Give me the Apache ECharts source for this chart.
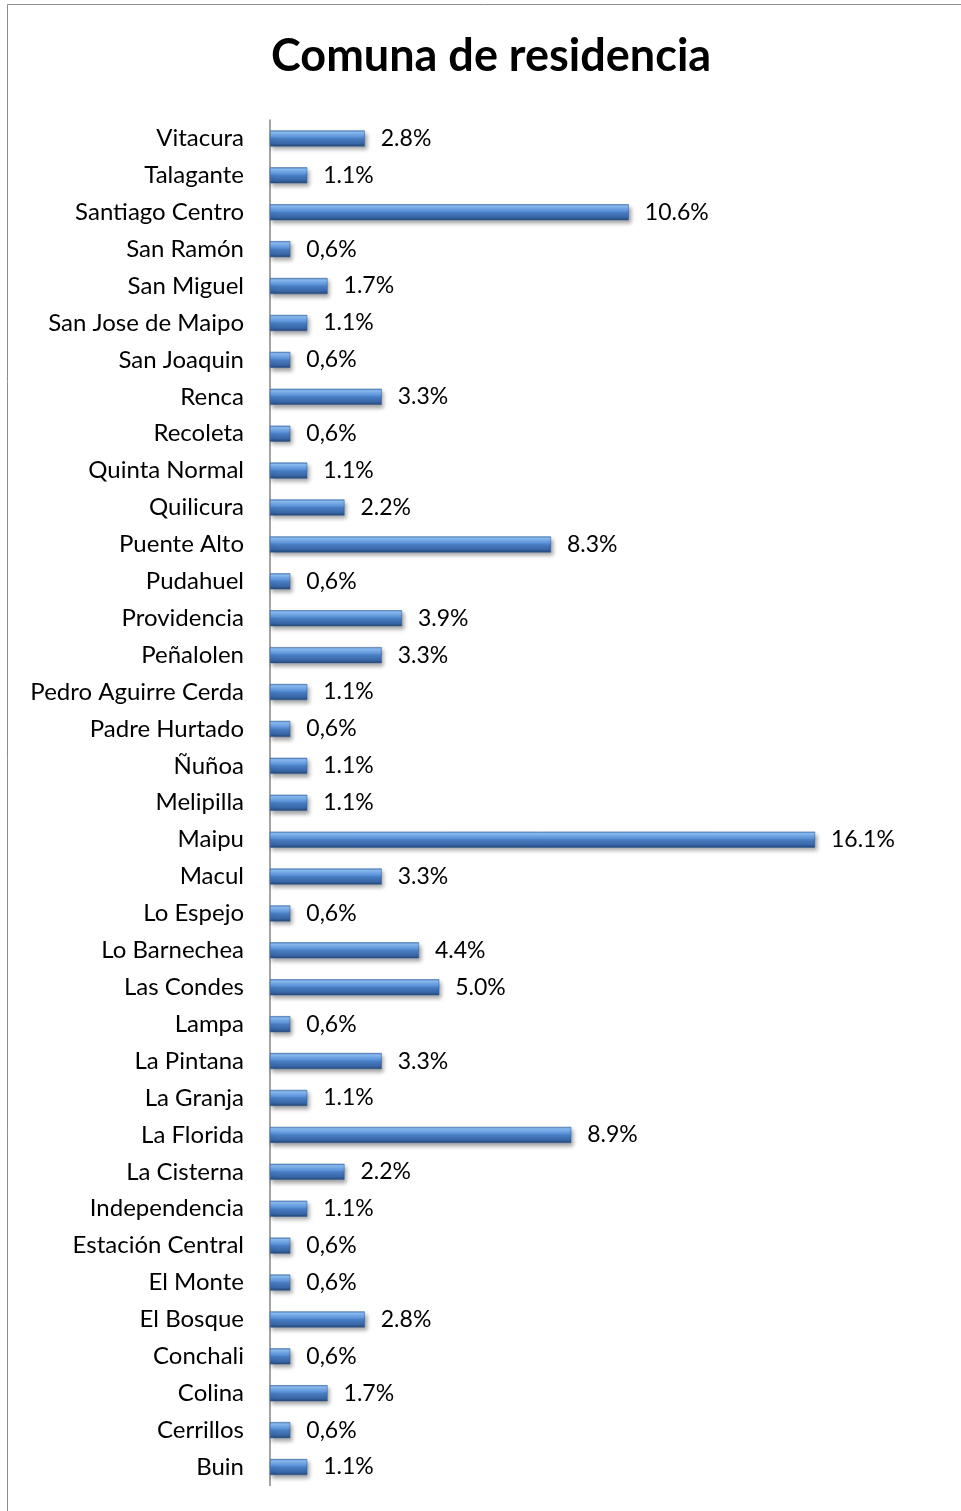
<!DOCTYPE html>
<html><head><meta charset="utf-8">
<script src="https://cdn.jsdelivr.net/npm/echarts@6/dist/echarts.min.js"></script>
<style>html,body{margin:0;padding:0;background:#fff}#c{width:961px;height:1511px}</style>
</head><body><div id="c"></div>
<script>
const categories = ["Vitacura","Talagante","Santiago Centro","San Ramón","San Miguel","San Jose de Maipo","San Joaquin","Renca","Recoleta","Quinta Normal","Quilicura","Puente Alto","Pudahuel","Providencia","Peñalolen","Pedro Aguirre Cerda","Padre Hurtado","Ñuñoa","Melipilla","Maipu","Macul","Lo Espejo","Lo Barnechea","Las Condes","Lampa","La Pintana","La Granja","La Florida","La Cisterna","Independencia","Estación Central","El Monte","El Bosque","Conchali","Colina","Cerrillos","Buin"];
const values = [2.8,1.1,10.6,0.6,1.7,1.1,0.6,3.3,0.6,1.1,2.2,8.3,0.6,3.9,3.3,1.1,0.6,1.1,1.1,16.1,3.3,0.6,4.4,5.0,0.6,3.3,1.1,8.9,2.2,1.1,0.6,0.6,2.8,0.6,1.7,0.6,1.1];
const labels = ["2.8%","1.1%","10.6%","0,6%","1.7%","1.1%","0,6%","3.3%","0,6%","1.1%","2.2%","8.3%","0,6%","3.9%","3.3%","1.1%","0,6%","1.1%","1.1%","16.1%","3.3%","0,6%","4.4%","5.0%","0,6%","3.3%","1.1%","8.9%","2.2%","1.1%","0,6%","0,6%","2.8%","0,6%","1.7%","0,6%","1.1%"];
const chart = echarts.init(document.getElementById('c'));
const grad = new echarts.graphic.LinearGradient(0,0,0,1,[
  {offset:0,color:'#5088cc'},{offset:0.12,color:'#8cbef4'},{offset:0.38,color:'#629ae0'},
  {offset:0.52,color:'#487dc2'},{offset:0.82,color:'#3866a6'},{offset:1,color:'#234574'}]);
chart.setOption({
  animation:false,
  backgroundColor:'#fff',
  title:{text:'Comuna de residencia',left:266,top:29,
    textStyle:{fontFamily:'Lato',fontWeight:'bold',fontSize:45,color:'#000'}},
  graphic:[{type:'rect',shape:{x:7.5,y:4.5,width:960,height:1520},style:{fill:'none',stroke:'#8c8c8c',lineWidth:1},silent:true}],
  grid:{left:270,top:120,bottom:25.5,right:14,containLabel:false},
  xAxis:{type:'value',min:0,max:20,show:false},
  yAxis:{type:'category',data:categories,inverse:true,
    axisLine:{lineStyle:{color:'#868686',width:1.5}},axisTick:{show:false},
    axisLabel:{fontFamily:'Lato',fontSize:24,color:'#000',margin:26}},
  series:[{type:'bar',data:values,barWidth:16,
    itemStyle:{color:grad,borderColor:'#2f5a93',borderWidth:0.5,shadowColor:'rgba(0,0,0,0.35)',shadowBlur:4,shadowOffsetY:3,shadowOffsetX:2},
    label:{show:true,position:'right',distance:16,fontFamily:'Lato',fontSize:23,color:'#000',
      formatter:p=>labels[p.dataIndex]}}]
});
</script></body></html>
